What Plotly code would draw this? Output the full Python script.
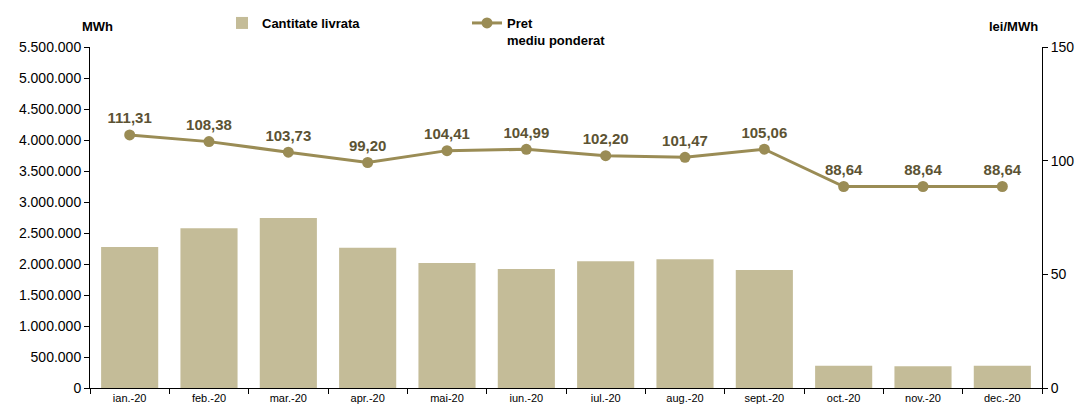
import plotly.graph_objects as go

# Monthly data, 2020
months = ["ian.-20", "feb.-20", "mar.-20", "apr.-20", "mai-20", "iun.-20",
          "iul.-20", "aug.-20", "sept.-20", "oct.-20", "nov.-20", "dec.-20"]
quantity_mwh = [2275000, 2578000, 2742000, 2263000, 2016000, 1920000,
                2043000, 2076000, 1903000, 360000, 350000, 360000]
price_lei = [111.31, 108.38, 103.73, 99.20, 104.41, 104.99,
             102.20, 101.47, 105.06, 88.64, 88.64, 88.64]

bar_color = "#C4BC98"
line_color = "#9A8C55"
label_color = "#5C5333"
font_family = "Liberation Sans, Arial, sans-serif"

# the page body has an 8px margin, so the figure is shifted by that much
OFF = 8
W, H = 1083 - OFF, 410 - OFF
ML, MR, MT, MB = 90 - OFF, 41, 47 - OFF, 22

fig = go.Figure()

fig.add_trace(go.Bar(
    x=months,
    y=quantity_mwh,
    name="<b>Cantitate livrata</b>",
    marker=dict(color=bar_color, line=dict(width=0)),
    yaxis="y",
))

fig.add_trace(go.Scatter(
    x=months,
    y=price_lei,
    name="<b>Pret<br>mediu ponderat</b>",
    mode="lines+markers+text",
    line=dict(color=line_color, width=3),
    marker=dict(color=line_color, size=11),
    texttemplate="%{y:.2f}",
    textposition="top center",
    textfont=dict(size=15, color=label_color, family=font_family, weight="bold"),
    yaxis="y2",
))

fig.update_layout(
    width=W,
    height=H,
    margin=dict(l=ML, r=MR, t=MT, b=MB, autoexpand=False),
    paper_bgcolor="white",
    plot_bgcolor="white",
    separators=",.",
    bargap=0.28,
    font=dict(family=font_family, size=13, color="black"),
    showlegend=True,
    legend=dict(
        orientation="h",
        xref="container",
        yref="container",
        x=(222 - OFF) / W,
        y=1 - 0 / H,
        xanchor="left",
        yanchor="top",
        entrywidth=200,
        entrywidthmode="pixels",
        font=dict(size=13, color="black"),
        itemwidth=30,
        traceorder="normal",
        valign="top",
    ),
    xaxis=dict(
        type="category",
        showline=True,
        linecolor="black",
        linewidth=1,
        ticks="outside",
        ticklen=5,
        tickson="boundaries",
        tickcolor="black",
        tickfont=dict(size=11),
        showgrid=False,
        range=[-0.5, 11.5],
    ),
    yaxis=dict(
        range=[0, 5500000],
        dtick=500000,
        tickformat=",d",
        showline=True,
        linecolor="black",
        linewidth=1,
        ticks="outside",
        ticklen=5,
        tickcolor="black",
        showgrid=False,
        zeroline=False,
        tickfont=dict(size=14),
    ),
    yaxis2=dict(
        range=[0, 150],
        dtick=50,
        overlaying="y",
        side="right",
        showline=True,
        linecolor="black",
        linewidth=1,
        ticks="outside",
        ticklen=5,
        tickcolor="black",
        showgrid=False,
        zeroline=False,
        tickfont=dict(size=14),
    ),
)

# axis unit titles, placed in reference pixels and converted to paper coordinates
plot_w = W - ML - MR
plot_h = H - MT - MB
for txt, px_x, px_y in [("<b>MWh</b>", 80, 17), ("<b>lei/MWh</b>", 1040, 17)]:
    fig.add_annotation(
        text=txt,
        x=(px_x - OFF - ML) / plot_w,
        y=(H - MB - (px_y - OFF)) / plot_h,
        xref="paper", yref="paper",
        showarrow=False,
        font=dict(size=13),
    )

fig.write_html("out.html")
